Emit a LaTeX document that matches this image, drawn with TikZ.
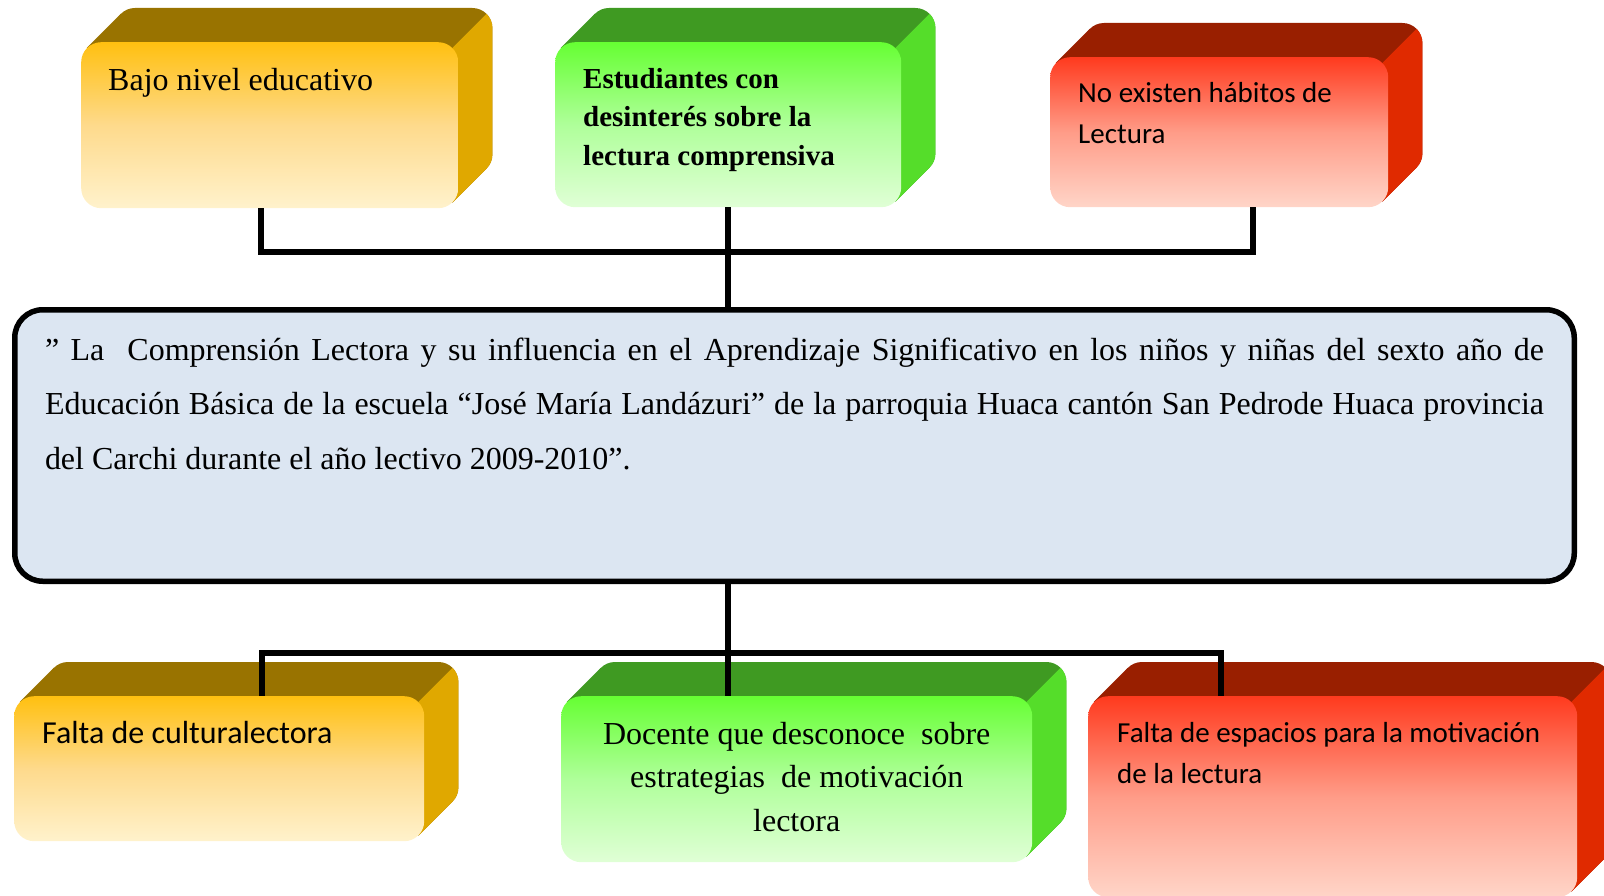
\documentclass[tikz,border=0pt]{standalone}
\usepackage{fontspec}
\setmainfont{Liberation Serif}
\newfontfamily\calibri{Carlito}
\usepackage{tikz}
\usetikzlibrary{backgrounds}
\definecolor{oroA}{HTML}{FFC010}
\definecolor{oroB}{HTML}{FEDA8C}
\definecolor{oroC}{HTML}{FFF2CC}
\definecolor{verdeA}{HTML}{66FF33}
\definecolor{verdeB}{HTML}{AFFF9A}
\definecolor{verdeC}{HTML}{E0FFD6}
\definecolor{rojoA}{HTML}{FF3A1E}
\definecolor{rojoB}{HTML}{FF9C88}
\definecolor{rojoC}{HTML}{FFD5C8}
\definecolor{ladooro}{HTML}{E0A800}
\definecolor{techooro}{HTML}{997300}
\definecolor{ladoverde}{HTML}{55DD2A}
\definecolor{techoverde}{HTML}{3F9A22}
\definecolor{ladorojo}{HTML}{E02A00}
\definecolor{techorojo}{HTML}{991F00}
\definecolor{temafondo}{HTML}{DCE6F2}
\tikzset{%
	causa/.style    = {rectangle, rounded corners=20pt, inner ysep=0pt, anchor=north west},
	oro/.style      = {top color=oroA, bottom color=oroC, middle color=oroB},
	verde/.style    = {top color=verdeA, bottom color=verdeC, middle color=verdeB},
	rojo/.style     = {top color=rojoA, bottom color=rojoC, middle color=rojoB},
	tema/.style     = {draw, line width=5.5pt, rounded corners=28pt, fill=temafondo, inner ysep=0pt, anchor=north west},
	conector/.style = {line width=6pt},
}

\begin{document}
\begin{tikzpicture}[x=1pt,y=-1pt]
	\useasboundingbox (0,0) rectangle (1604,896);
	% causas
	\node[causa, oro, inner xsep=27pt, text height=48pt, text depth=118pt, font=\fontsize{32}{41}\selectfont] (bajo) at (81,42) {\parbox[t]{323pt}{Bajo nivel educativo}};
	\node[causa, verde, inner xsep=28pt, text height=46pt, text depth=119pt, font=\bfseries\fontsize{29}{38.5}\selectfont] (estudiantes) at (555,42) {\parbox[t]{290pt}{\raggedright Estudiantes con\\desinterés sobre la\\lectura comprensiva}};
	\node[causa, rojo, inner xsep=28pt, text height=45pt, text depth=105pt, font=\calibri\fontsize{29}{41}\selectfont] (habitos) at (1050,57) {\parbox[t]{282pt}{\raggedright No existen hábitos de\\Lectura}};
	% problema
	\node[tema, inner xsep=30.25pt, text height=50.25pt, text depth=221.25pt, font=\fontsize{32}{54.5}\selectfont] (problema) at (12,307) {\parbox[t]{1499pt}{\hyphenpenalty=10000 \tolerance=9999 ” La\ \ Comprensión Lectora y su influencia en el Aprendizaje Significativo en los niños y niñas del sexto año de\linebreak Educación Básica de la escuela “José María Landázuri” de la parroquia Huaca cantón San Pedrode Huaca provincia\linebreak del Carchi durante el año lectivo 2009-2010”.}};
	% efectos
	\node[causa, oro, inner xsep=28pt, text height=47pt, text depth=98pt, font=\calibri\fontsize{32}{41}\selectfont] (cultura) at (14,696) {\parbox[t]{354pt}{Falta de culturalectora}};
	\node[causa, verde, inner xsep=20pt, text height=48pt, text depth=118pt, font=\fontsize{32}{43.5}\selectfont] (docente) at (561,696) {\parbox[t]{431pt}{\centering Docente que desconoce\ \ sobre\\estrategias\ \ de motivación\\lectora}};
	\node[causa, rojo, inner xsep=29pt, text height=46pt, text depth=155pt, font=\calibri\fontsize{29}{41}\selectfont] (espacios) at (1088,696) {\parbox[t]{431pt}{\raggedright \mbox{Falta de espacios para la motivación}\\de la lectura}};
	% relieve de las cajas
	\begin{scope}[on background layer]
		\foreach \nodo/\tono in {bajo/oro, estudiantes/verde, habitos/rojo, cultura/oro, docente/verde, espacios/rojo}{
			\fill[fill=techo\tono, rounded corners=20pt] ([shift={(34,-34)}]\nodo.south west) rectangle ([shift={(34,-34)}]\nodo.north east);
			\fill[fill=techo\tono] ([shift={(5.86,5.86)}]\nodo.north west) -- ++(34,-34) -- ([shift={(28.14,-39.86)}]\nodo.south east) -- ([shift={(-5.86,-5.86)}]\nodo.south east) -- cycle;
			\begin{scope}
				\clip ([shift={(-5.86,5.86)}]\nodo.north east) -- ++(100,-100) -- ++(0,600) -- ++(-100,0) -- cycle;
				\fill[fill=lado\tono, rounded corners=20pt] ([shift={(34,-34)}]\nodo.south west) rectangle ([shift={(34,-34)}]\nodo.north east);
				\fill[fill=lado\tono] ([shift={(5.86,5.86)}]\nodo.north west) -- ++(34,-34) -- ([shift={(28.14,-39.86)}]\nodo.south east) -- ([shift={(-5.86,-5.86)}]\nodo.south east) -- cycle;
			\end{scope}
		}
	\end{scope}
	% conectores
	\coordinate (izq) at (261,252);
	\coordinate (der) at (1253,252);
	\coordinate (izqb) at (262,653);
	\coordinate (derb) at (1221,653);
	\draw[conector] (bajo.south -| izq) -- (izq) -- (der) -- (habitos.south -| der);
	\draw[conector] (estudiantes.south) -- (problema.north -| estudiantes.south);
	\draw[conector] (cultura.north -| izqb) -- (izqb) -- (derb) -- (espacios.north -| derb);
	\draw[conector] (problema.south -| estudiantes.south) -- (docente.north -| estudiantes.south);
\end{tikzpicture}
\end{document}
